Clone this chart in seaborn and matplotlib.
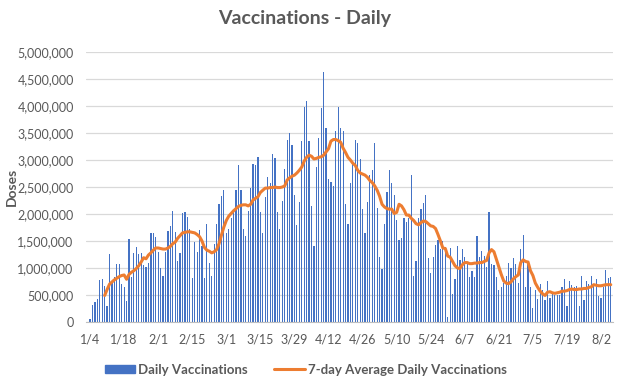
import pandas as pd
import matplotlib
matplotlib.use("Agg")
import matplotlib.pyplot as plt
import matplotlib.ticker as mticker
from matplotlib.patches import Patch
from matplotlib.lines import Line2D
import seaborn as sns

# daily doses (thousands), 1/4/2021 .. 8/6/2021
daily_k = [
    50, 320, 370, 420, 770, 800, 670,
    290, 1250, 720, 830, 1080, 1080, 710,
    640, 390, 1540, 830, 1270, 1390, 1250,
    1280, 1060, 1020, 1100, 1650, 1640, 1570,
    1290, 1000, 860, 1300, 1680, 1780, 2060,
    1670, 1120, 1270, 2020, 2040, 1950, 1730,
    820, 1490, 1290, 1700, 1400, 810, 1810,
    1090, 860, 1440, 1810, 2180, 2340, 2440,
    1650, 1720, 1920, 2050, 2440, 2900, 2440,
    1730, 1590, 2050, 2490, 2930, 2900, 3060,
    2030, 1650, 2320, 2690, 2580, 3120, 3040,
    2030, 1720, 2250, 2830, 3380, 3500, 3280,
    2350, 1790, 2230, 3360, 3980, 4090, 3360,
    2150, 1400, 2880, 3400, 3960, 4640, 3590,
    2650, 2590, 2520, 3530, 3980, 3590, 3530,
    2190, 1810, 2570, 2950, 3380, 3320, 3020,
    2100, 1640, 2230, 2720, 2810, 3310, 2120,
    1200, 990, 1810, 2400, 2810, 2570, 2360,
    1880, 1520, 1550, 1920, 1850, 1930, 2720,
    860, 1120, 1930, 2100, 2200, 2350, 1180,
    900, 1210, 1420, 1520, 1360, 1500, 1390,
    100, 1370, 510, 800, 1400, 1140, 1360,
    1210, 1080, 830, 940, 830, 1600, 1200,
    1320, 1220, 1020, 2040, 1080, 1060, 830,
    600, 640, 720, 860, 1100, 1000, 1190,
    1080, 730, 1360, 1620, 650, 1120, 640,
    250, 600, 430, 700, 590, 410, 750,
    450, 550, 490, 490, 500, 640, 800,
    300, 750, 680, 650, 670, 300, 860,
    400, 750, 710, 860, 700, 800, 480,
    450, 650, 960, 820, 830,
]

# 7-day average (thousands), 1/10/2021 .. 8/6/2021
avg_k = [
    490, 600, 700, 740, 780, 810, 840, 860,
    870, 790, 880, 920, 950, 990, 1040,
    1110, 1190, 1170, 1240, 1280, 1330, 1370,
    1370, 1360, 1350, 1350, 1370, 1400, 1450,
    1480, 1550, 1600, 1650, 1660, 1670, 1670,
    1660, 1650, 1620, 1580, 1500, 1380, 1330,
    1310, 1280, 1300, 1340, 1450, 1610, 1760,
    1880, 1960, 2010, 2060, 2100, 2140, 2160,
    2170, 2170, 2150, 2180, 2260, 2290, 2320,
    2400, 2440, 2480, 2480, 2490, 2490, 2500,
    2490, 2490, 2500, 2520, 2630, 2670, 2700,
    2720, 2760, 2810, 2870, 2980, 3050, 3090,
    3070, 3020, 3030, 3050, 3060, 3090, 3150,
    3210, 3350, 3380, 3380, 3360, 3330, 3220,
    3140, 3050, 3000, 2940, 2900, 2810, 2760,
    2740, 2720, 2680, 2620, 2580, 2520, 2440,
    2330, 2180, 2130, 2100, 2090, 2090, 2010,
    2030, 2180, 2150, 2080, 1980, 1980, 1920,
    1880, 1820, 1800, 1840, 1870, 1860, 1820,
    1780, 1770, 1730, 1620, 1500, 1370, 1360,
    1220, 1200, 1120, 1040, 1000, 990, 1060,
    1100, 1100, 1080, 1080, 1090, 1090, 1100,
    1100, 1120, 1140, 1280, 1340, 1300, 1160,
    1020, 880, 760, 720, 710, 740, 800,
    840, 870, 1100, 1150, 1120, 1110, 950,
    860, 720, 640, 570, 520, 490, 550,
    560, 540, 530, 540, 550, 570, 570,
    580, 600, 610, 600, 600, 610, 610,
    620, 620, 640, 650, 690, 680, 670,
    670, 680, 690, 690, 690,
]

start = pd.Timestamp("2021-01-04")
dates = pd.date_range(start, periods=len(daily_k), freq="D")
tick_days = list(range(0, 211, 14))
tick_labels = [f"{dates[d].month}/{dates[d].day}" for d in tick_days]

df = pd.DataFrame({"day": range(len(daily_k)), "doses": [v * 1000 for v in daily_k]})
off = len(daily_k) - len(avg_k)
df_avg = pd.DataFrame({"day": range(off, len(daily_k)), "avg": [v * 1000 for v in avg_k]})

sns.set_style("white")
plt.rcParams["font.family"] = ["Lato", "DejaVu Sans"]
grey = "#595959"

fig = plt.figure(figsize=(6.2, 3.86), dpi=100)
ax = fig.add_axes([0.139, 0.166, 0.850, 0.699])

sns.barplot(data=df, x="day", y="doses", native_scale=True, width=0.5,
            color="#4472C4", saturation=1, linewidth=0, ax=ax)
sns.lineplot(data=df_avg, x="day", y="avg", color="#ED7D31", linewidth=2.2, ax=ax)

ax.set_xlim(-1.6, 215.0)
ax.set_ylim(0, 5000000)
ax.yaxis.set_major_locator(mticker.MultipleLocator(500000))
ax.yaxis.set_major_formatter(mticker.FuncFormatter(lambda v, p: f"{int(v):,}"))
ax.set_xticks(tick_days)
ax.set_xticklabels(tick_labels)
ax.grid(axis="y", color="#D9D9D9", linewidth=0.9)
ax.set_axisbelow(True)
for s in ["top", "right", "left"]:
    ax.spines[s].set_visible(False)
ax.spines["bottom"].set_color("#BFBFBF")
ax.tick_params(axis="x", colors=grey, labelsize=9, length=4, width=0.8, color="#BFBFBF", pad=4)
ax.tick_params(axis="y", colors=grey, labelsize=9, length=0, pad=9)
ax.set_xlabel("")
ax.set_ylabel("")

fig.text(12 / 620, 0.515, "Doses", rotation=90, ha="center", va="center",
         fontsize=10, fontweight="bold", color=grey)
fig.text(0.492, 0.952, "Vaccinations - Daily", ha="center", va="center",
         fontsize=14, fontweight="bold", color=grey)

handles = [Patch(color="#4472C4", label="Daily Vaccinations"),
           Line2D([0], [0], color="#ED7D31", linewidth=2.2, label="7-day Average Daily Vaccinations")]
leg = fig.legend(handles=handles, loc="center", bbox_to_anchor=(0.493, 0.042), ncol=2,
                 frameon=False, handlelength=2.3, handleheight=0.6, columnspacing=2.0,
                 handletextpad=0.25, prop={"size": 9.5, "weight": "bold"})
for t in leg.get_texts():
    t.set_color(grey)

fig.savefig("out.png", dpi=100)
